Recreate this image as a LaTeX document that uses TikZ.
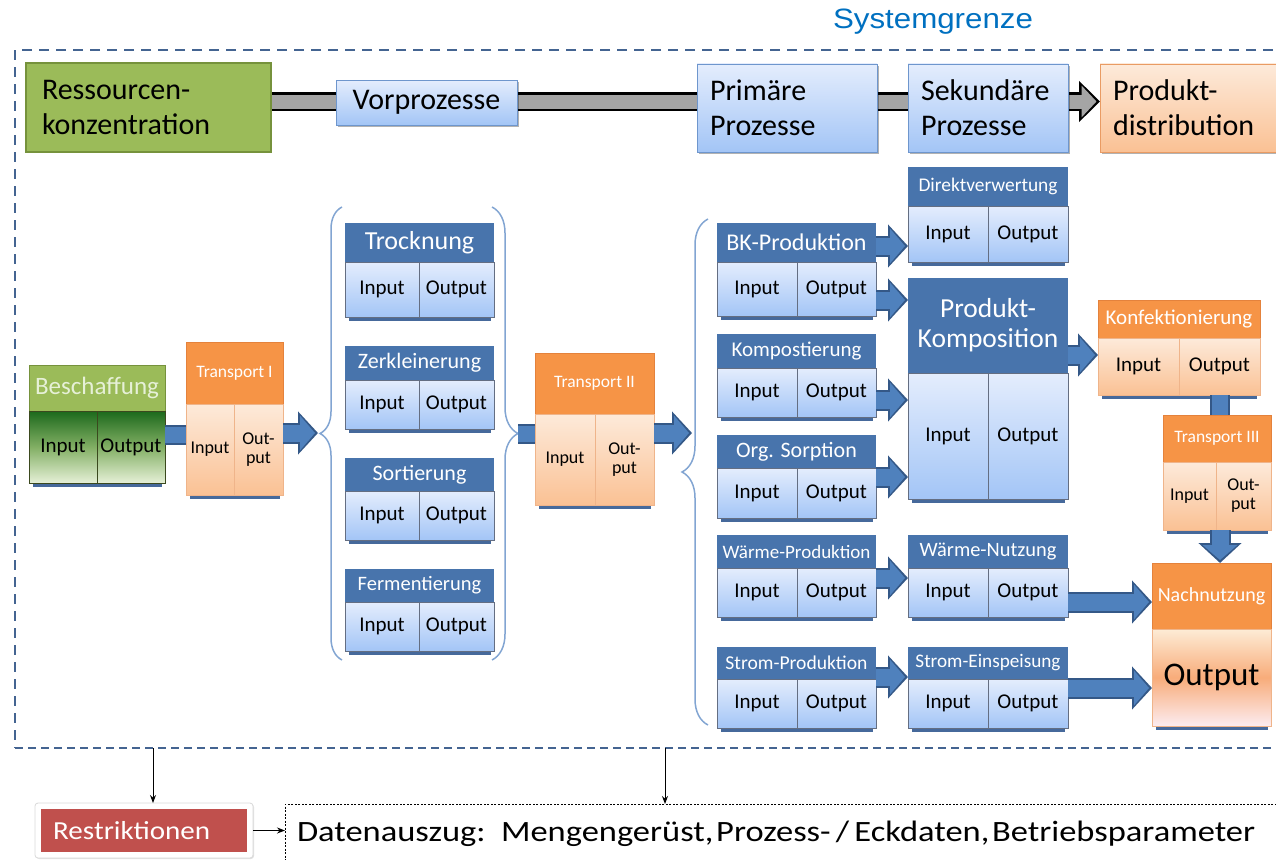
\documentclass[tikz,border=0pt]{standalone}
\usepackage{fontspec}
\usepackage{graphicx}
\setmainfont{Carlito}
\newfontfamily\arialf{Liberation Sans}
\usetikzlibrary{arrows.meta,decorations.pathreplacing,calc,shadows}
\pgfdeclarelayer{bg}
\pgfsetlayers{bg,main}

\definecolor{hblue}{RGB}{72,116,172}
\definecolor{ctop}{RGB}{228,237,253}
\definecolor{cbot}{RGB}{163,197,246}
\definecolor{cline}{RGB}{100,110,130}
\definecolor{shadowc}{RGB}{70,105,155}
\definecolor{horange}{RGB}{246,148,70}
\definecolor{otop}{RGB}{253,234,218}
\definecolor{obot}{RGB}{250,193,148}
\definecolor{oline}{RGB}{228,130,60}
\definecolor{gfill}{RGB}{155,187,89}
\definecolor{gline}{RGB}{118,146,60}
\definecolor{gdark}{RGB}{28,105,28}
\definecolor{gmid}{RGB}{130,175,100}
\definecolor{glight}{RGB}{230,240,215}
\definecolor{abl}{RGB}{79,129,189}
\definecolor{abd}{RGB}{52,88,135}
\definecolor{sysblue}{RGB}{0,112,192}
\definecolor{dashc}{RGB}{68,100,145}
\definecolor{bracec}{RGB}{130,165,210}
\definecolor{restr}{RGB}{192,80,77}
\definecolor{topbox}{RGB}{110,150,205}
\definecolor{graybar}{RGB}{165,165,165}
\definecolor{ntop}{RGB}{253,236,214}
\definecolor{nmid}{RGB}{248,172,122}
\definecolor{nbot}{RGB}{252,236,240}

\def\intext{Input}
\def\outtext{Output}

\newcommand\pbox[9]{%
  \pgfmathsetmacro\pbW{#4-#2}%
  \pgfmathsetmacro\pbH{#5-#3}%
  \pgfmathsetmacro\pbWa{#7-#2}%
  \pgfmathsetmacro\pbWb{#4-#7}%
  \pgfmathsetmacro\pbHb{#6-#5}%
  \pgfmathsetmacro\pbL{#8*1.1}%
  \fill[shadowc] (#2+4,#6-1) rectangle (#4-3,#6+4);
  \node[curhdr, anchor=north west, minimum width=\pbW pt, minimum height=\pbH pt,
        font=\fontsize{#8}{\pbL}\selectfont] (#1) at (#2,#3) {#9};
  \node[curcel, cellfont, anchor=north west, minimum width=\pbWa pt, minimum height=\pbHb pt] (#1-in) at (#2,#5) {\intext};
  \node[curcel, cellfont, anchor=north west, minimum width=\pbWb pt, minimum height=\pbHb pt] (#1-out) at (#7,#5) {\outtext};
}
\newcommand\barrow[2]{\draw[baO] #1 -- #2; \draw[baI] #1 -- #2;}
\newcommand\bbar[2]{\draw[bbO] #1 -- #2; \draw[bbI] #1 -- #2;}

\tikzset{
  hdrB/.style={fill=hblue, text=white, inner sep=0pt, outer sep=0pt, align=center},
  celB/.style={top color=ctop, bottom color=cbot, draw=cline, line width=0.6pt, inner sep=0pt, outer sep=0pt, align=center, text=black},
  hdrO/.style={fill=horange, draw=oline, line width=0.8pt, text=white, inner sep=0pt, outer sep=0pt, align=center},
  celO/.style={top color=otop, bottom color=obot, draw=oline!60, line width=0.6pt, inner sep=0pt, outer sep=0pt, align=center, text=black},
  hdrG/.style={fill=gfill, draw=gline, line width=0.8pt, text=glight, inner sep=0pt, outer sep=0pt, align=center},
  celG/.style={top color=gdark, bottom color=glight, middle color=gmid, draw=gline!50!black, line width=0.6pt, inner sep=0pt, outer sep=0pt, align=center, text=black},
  curhdr/.style={hdrB}, curcel/.style={celB},
  cellfont/.style={font=\fontsize{21}{23}\selectfont},
  topB/.style={top color=ctop, bottom color=cbot, draw=topbox, line width=0.8pt, inner sep=0pt, outer sep=0pt,
     drop shadow={shadow xshift=2pt, shadow yshift=-2pt, fill=black, opacity=0.3}, font=\fontsize{30}{35}\selectfont},
  gbox/.style={fill=gfill, draw=gline, line width=1.5pt, inner sep=0pt, outer sep=0pt, font=\fontsize{30}{35}\selectfont},
  pdbox/.style={top color=otop, bottom color=obot, draw=oline!80, line width=0.8pt, inner sep=0pt, outer sep=0pt,
     drop shadow={shadow xshift=2pt, shadow yshift=-2pt, fill=black, opacity=0.3}, font=\fontsize{30}{35}\selectfont},
  outgrad/.style={top color=ntop, bottom color=nbot, middle color=nmid, draw=oline!60, line width=0.6pt, inner sep=0pt, outer sep=0pt},
  baO/.style={line width=21pt, draw=abd, -{Triangle[length=20pt,width=42pt]}},
  baI/.style={line width=17pt, draw=abl, -{Triangle[length=15pt,width=34pt]}, shorten >=3pt},
  bbO/.style={line width=20pt, draw=abd},
  bbI/.style={line width=16pt, draw=abl},
  bracestyle/.style={draw=bracec, line width=1.5pt, decorate},
  thinarrow/.style={draw=black, line width=1pt, -{Stealth[length=8pt,width=6pt]}},
}

\begin{document}
\begin{tikzpicture}[x=1pt,y=-1pt]
\useasboundingbox (0,0) rectangle (1276,859);
\clip (0,0) rectangle (1276,859);

% system boundary
\node[font=\arialf\fontsize{28}{30}\selectfont, text=sysblue, inner sep=0pt] (sys) at (933,22) {\resizebox{200pt}{\height}{Systemgrenze}};
\draw[dashc, line width=2.5pt, dash pattern=on 10pt off 7pt] (1290,50) -- (15,50) -- (15,748);
\draw[dashc, line width=2.5pt, dash pattern=on 8pt off 5pt] (15,748) -- (1290,748);

% top row
\node[gbox, anchor=north west, minimum width=245pt, minimum height=89pt, text width=213pt, inner xsep=16pt, align=left] (ress) at (26,63) {Ressourcen-\\konzentration};
\node[topB, minimum width=181pt, minimum height=45pt] (vor) at (426.5,102.5) {Vorprozesse};
\node[topB, anchor=north west, minimum width=180pt, minimum height=88pt, text width=154pt, inner xsep=13pt, align=left] (prim) at (697,64) {Primäre\\Prozesse};
\node[topB, anchor=north west, minimum width=160pt, minimum height=88pt, text width=134pt, inner xsep=13pt, align=left] (sek) at (908,64) {Sekundäre\\Prozesse};
\node[pdbox, anchor=north west, minimum width=190pt, minimum height=88pt, text width=164pt, inner xsep=13pt, align=left] (pd) at (1100,64) {Produkt-\\distribution};
\begin{pgfonlayer}{bg}
\draw[line width=19pt, draw=black, -{Triangle[length=21pt,width=40pt]}] (ress.east |- 0,101.5) -- (pd.west |- 0,101.5);
\draw[line width=14pt, draw=graybar, -{Triangle[length=15pt,width=31pt]}, shorten >=3.5pt] (ress.east |- 0,101.5) -- (pd.west |- 0,101.5);
\end{pgfonlayer}

% braces
\draw[bracestyle, decoration={brace, amplitude=22pt}] (342,660) -- (342,207);
\draw[bracestyle, decoration={brace, amplitude=26pt}] (492,207) -- (492,660);
\draw[bracestyle, decoration={brace, amplitude=26pt}] (708,725) -- (708,219);
\coordinate (b1tip) at (318,433);
\coordinate (b2tip) at (518,434);
\coordinate (b3end) at (692,433);

% blue process boxes
\pbox{tro}{345}{223}{494}{262}{317}{419}{26}{Trocknung}
\pbox{zer}{345}{346}{494}{380}{429}{419}{22}{Zerkleinerung}
\pbox{sor}{345}{458}{494}{491}{540}{419}{22}{Sortierung}
\pbox{fer}{345}{569}{494}{602}{651}{419}{20.5}{Fermentierung}
\pbox{bk}{717}{223}{876}{262}{316}{797}{24}{BK-Produktion}
\pbox{kom}{717}{334}{876}{368}{417}{797}{21}{Kompostierung}
\pbox{org}{717}{435}{876}{468}{518}{797}{22}{Org. Sorption}
\pbox{dv}{908}{167}{1068}{206}{262}{988}{19.4}{Direktverwertung}
\pbox{pk}{908}{278}{1068}{373}{499}{988}{27.5}{Produkt-\\Komposition}
\pbox{wp}{717}{535}{876}{568}{617}{797}{19}{Wärme-Produktion}
\pbox{wn}{908}{535}{1068}{568}{617}{988}{20.4}{Wärme-Nutzung}
\pbox{sp}{717}{647}{876}{679}{728}{797}{19.6}{Strom-Produktion}
\pbox{se}{908}{647}{1068}{679}{728}{988}{19.2}{Strom-Einspeisung}

% green
\begin{scope}
\tikzset{curhdr/.style={hdrG}, curcel/.style={celG}}
\pbox{besch}{29}{365}{165}{411}{483}{97}{25}{Beschaffung}
\end{scope}

% orange
\begin{scope}
\tikzset{curhdr/.style={hdrO}, curcel/.style={celO}}
\pbox{konf}{1098}{300}{1260}{338}{395}{1179}{21}{Konfektionierung}
\tikzset{cellfont/.style={font=\fontsize{18}{19}\selectfont}}
\def\outtext{Out-\\put}
\pbox{t1}{186}{342}{283}{404}{495}{234}{17.5}{Transport I}
\pbox{t2}{535}{353}{654}{414}{505}{595}{17.5}{Transport II}
\pbox{t3}{1163}{415}{1271}{462}{530}{1216}{17.5}{Transport III}
\end{scope}

\fill[shadowc] (1156,725) rectangle (1268,730);
\node[hdrO, anchor=north west, minimum width=119pt, minimum height=66pt, font=\fontsize{20}{22}\selectfont] (nach) at (1152,563) {Nachnutzung};
\node[outgrad, anchor=north west, minimum width=119pt, minimum height=97pt, font=\fontsize{33}{36}\selectfont] (nachout) at (1152,629) {Output};

% blue connectors
\bbar{(besch-out.east |- 0,435)}{(t1-in.west |- 0,435)}
\barrow{(t1-out.east |- 0,433)}{(b1tip)}
\bbar{(b2tip)}{(t2-in.west |- b2tip)}
\barrow{(t2-out.east |- 0,433)}{(b3end)}
\barrow{(bk.east |- 0,246)}{(dv-in.west |- 0,246)}
\barrow{(bk-out.east |- 0,300)}{(pk.west |- 0,300)}
\barrow{(kom-out.east |- 0,400)}{(pk-in.west |- 0,400)}
\barrow{(org-out.east |- 0,477)}{(pk-in.west |- 0,477)}
\barrow{(pk.east |- 0,355)}{(konf-in.west |- 0,355)}
\barrow{(wp-out.east |- 0,578)}{(wn-in.west |- 0,578)}
\barrow{(sp-out.east |- 0,677)}{(se-in.west |- 0,677)}
\barrow{(wn-out.east |- 0,602)}{(nach.west |- 0,602)}
\barrow{(se-out.east |- 0,688)}{(nachout.west |- 0,688)}
\coordinate (kb) at ($(konf-out.south west)+(41,0)$);
\bbar{(kb)}{(kb |- t3.north)}
\coordinate (t3b) at ($(t3-out.south west)+(4,0)$);
\barrow{(t3b)}{(t3b |- nach.north)}

% bottom
\coordinate (sb1) at (153,748);
\coordinate (sb2) at (665,748);
\node[fill=white, draw=black!15, line width=0.8pt, rounded corners=3pt, anchor=north west, minimum width=218pt, minimum height=55pt, inner sep=0pt, outer sep=0pt,
      drop shadow={shadow xshift=1pt, shadow yshift=-1pt, fill=black, opacity=0.12}] (restrframe) at (35,803) {};
\node[fill=restr, text=white, anchor=north west, minimum width=206pt, minimum height=43pt, inner xsep=12pt, inner ysep=0pt, font=\fontsize{26}{28}\selectfont] (restr) at (41,809) {\makebox[182pt][l]{\resizebox{157pt}{\height}{Restriktionen}}};
\node[draw=black, dash pattern=on 2pt off 1.5pt, line width=0.8pt, anchor=north west, minimum height=60pt, text width=1000pt, inner xsep=12pt, inner ysep=0pt, outer sep=0pt, align=left, font=\fontsize{29.5}{31}\selectfont] (daten) at (285,804) {\resizebox{958pt}{\height}{Datenauszug:\hspace{0.45em}Mengengerüst,\hspace{0.08em}Prozess-\hspace{0.15em}/\hspace{0.15em}Eckdaten,\hspace{0.08em}Betriebsparameter}};
\draw[thinarrow] (sb1) -- (sb1 |- restrframe.north);
\draw[thinarrow] (sb2) -- (sb2 |- daten.north);
\draw[thinarrow] (restrframe.east) -- (daten.west |- restrframe.east);
\end{tikzpicture}
\end{document}
